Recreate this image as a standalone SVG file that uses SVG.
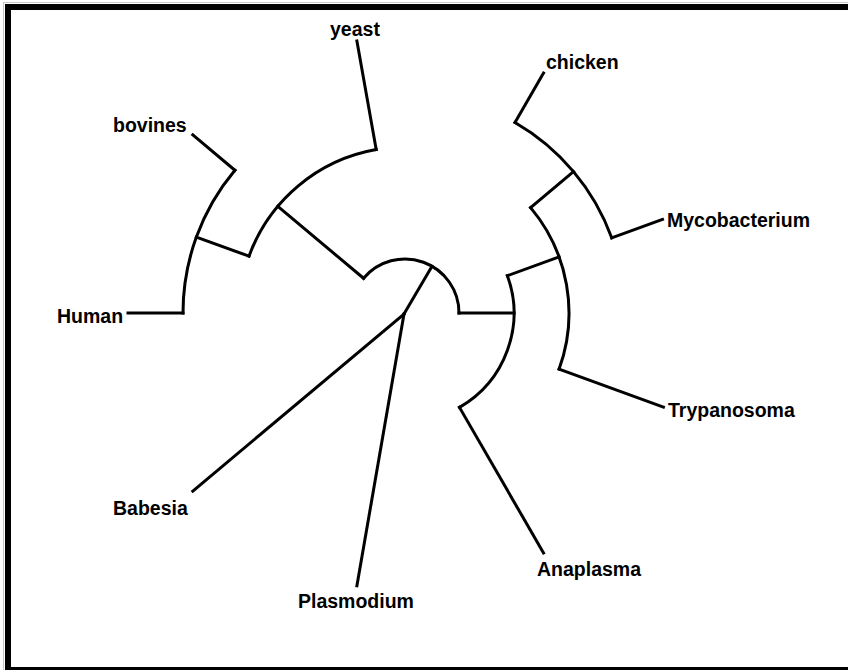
<svg xmlns="http://www.w3.org/2000/svg" width="848" height="670" viewBox="0 0 848 670">
<style>
.br{fill:none;stroke:#000;stroke-width:3;stroke-linecap:square;stroke-linejoin:miter}
.lbl{font-family:"Liberation Sans",Arial,sans-serif;font-weight:bold;font-size:19.5px;fill:#000}
</style>
<rect x="0" y="0" width="848" height="670" fill="#fff"/>
<rect x="3.5" y="2.5" width="900" height="700" fill="none" stroke="#c8c8c8" stroke-width="1"/>
<rect x="8" y="7" width="900" height="663" fill="none" stroke="#000" stroke-width="6"/>
<g id="connectors">
  <!-- inner arc and root links -->
  <path class="br" d="M363.6,278.3 A54,54 0 0 1 459,313"/>
  <path class="br" d="M432,266.2 L404,314"/>
  <path class="br" d="M404,314 L192.8,491.1"/>
  <path class="br" d="M404,314 L356.9,585.8"/>
  <!-- left clade -->
  <path class="br" d="M363.6,278.3 L277.8,206.3"/>
  <path class="br" d="M249,256.2 A166,166 0 0 1 376.2,149.5"/>
  <path class="br" d="M376.2,149.5 L356.9,41"/>
  <path class="br" d="M249,256.2 L196.4,237.1"/>
  <path class="br" d="M183,313 A222,222 0 0 1 234.9,170.3"/>
  <path class="br" d="M183,313 L128,313"/>
  <path class="br" d="M234.9,170.3 L192.8,134.9"/>
  <!-- right clade -->
  <path class="br" d="M459,313 L514,313"/>
  <path class="br" d="M507.4,275.7 A109,109 0 0 1 459.5,407.4"/>
  <path class="br" d="M459.5,407.4 L543.5,552.9"/>
  <path class="br" d="M507.4,275.7 L559.1,256.9"/>
  <path class="br" d="M530.6,207.6 A164,164 0 0 1 559.1,369.1"/>
  <path class="br" d="M559.1,369.1 L663.4,407.1"/>
  <path class="br" d="M530.6,207.6 L573.5,171.6"/>
  <path class="br" d="M515,122.5 A220,220 0 0 1 611.7,237.8"/>
  <path class="br" d="M515,122.5 L543.5,73.1"/>
  <path class="br" d="M611.7,237.8 L662.5,219.3"/>
</g>
<g id="node-yeast"><text class="lbl" x="330" y="36">yeast</text></g>
<g id="node-bovines"><text class="lbl" x="113" y="132">bovines</text></g>
<g id="node-human"><text class="lbl" x="57" y="323">Human</text></g>
<g id="node-babesia"><text class="lbl" x="113" y="515">Babesia</text></g>
<g id="node-plasmodium"><text class="lbl" x="298" y="608">Plasmodium</text></g>
<g id="node-anaplasma"><text class="lbl" x="537" y="576">Anaplasma</text></g>
<g id="node-trypanosoma"><text class="lbl" x="668" y="417">Trypanosoma</text></g>
<g id="node-mycobacterium"><text class="lbl" x="667" y="227">Mycobacterium</text></g>
<g id="node-chicken"><text class="lbl" x="546" y="69">chicken</text></g>
</svg>
